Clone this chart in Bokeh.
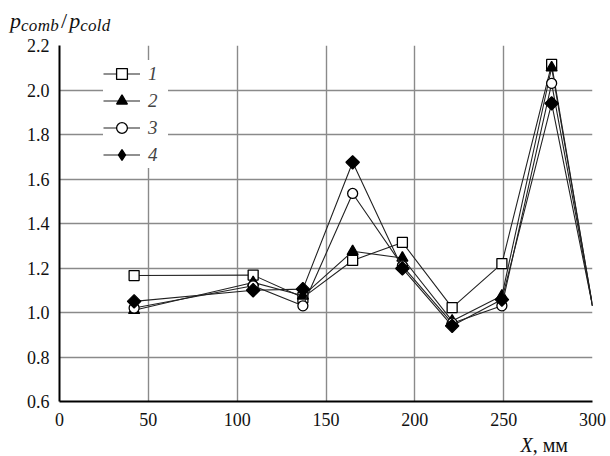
import math
from bokeh.plotting import figure
from bokeh.models import (Range1d, FixedTicker, PrintfTickFormatter, Legend, LegendItem, Div)
from bokeh.layouts import column
from bokeh.embed import file_html
from bokeh.resources import INLINE

# ---- data ----
x_pos = [42, 109, 137, 165, 193, 221, 249, 277, 300]
s1 = [1.166, 1.168, 1.067, 1.234, 1.315, 1.022, 1.22, 2.115, 1.03]
s2 = [1.01, 1.135, 1.075, 1.275, 1.245, 0.962, 1.075, 2.10, 1.03]
s3 = [1.02, 1.12, 1.03, 1.535, 1.21, 0.952, 1.03, 2.03, 1.03]
s4 = [1.05, 1.10, 1.105, 1.675, 1.198, 0.94, 1.058, 1.94, 1.03]
series_names = ["1", "2", "3", "4"]
x_ticks = [0, 50, 100, 150, 200, 250, 300]
y_ticks = [0.6, 0.8, 1.0, 1.2, 1.4, 1.6, 1.8, 2.0, 2.2]

FONT = "serif"
CSSFONT = "'Liberation Serif', 'DejaVu Serif', serif"

TOP_H = 32
BOT_H = 22
FIG_H = 456 - TOP_H - BOT_H

p = figure(width=610, height=FIG_H, output_backend="svg", toolbar_location=None,
           x_range=Range1d(0, 300), y_range=Range1d(0.6, 2.2),
           min_border_left=59, min_border_right=18, min_border_top=45 - TOP_H,
           min_border_bottom=FIG_H - (401 - TOP_H))
p.outline_line_color = None
p.background_fill_color = "white"
p.border_fill_color = "white"
p.margin = 0

for ax in (p.xaxis[0], p.yaxis[0]):
    ax.axis_line_color = "black"
    ax.axis_line_width = 2
    ax.major_tick_line_color = None
    ax.minor_tick_line_color = None
    ax.major_tick_out = 0
    ax.major_tick_in = 0
    ax.minor_tick_out = 0
    ax.minor_tick_in = 0
    ax.major_label_text_font = FONT
    ax.major_label_text_font_size = "18px"
    ax.major_label_text_color = "#111"
p.xaxis.ticker = FixedTicker(ticks=x_ticks)
p.yaxis.ticker = FixedTicker(ticks=y_ticks)
p.yaxis.formatter = PrintfTickFormatter(format="%.1f")
p.xaxis.major_label_standoff = 11
p.yaxis.major_label_standoff = 10

for g in (p.xgrid[0], p.ygrid[0]):
    g.grid_line_color = "#8a8a8a"
    g.grid_line_width = 1.4

LC = "#222222"
xs_m = x_pos[:-1]
items = []
specs = [
    (s1, "square", "white", 10, 0.0),
    (s2, "triangle", "black", 11, 0.0),
    (s3, "circle", "white", 10, 0.0),
    (s4, "square", "black", 9.5, math.pi / 4),
]
legend_markers = ["square", "triangle", "circle", "diamond"]
for (vals, marker, fill, size, ang), name, lm in zip(specs, series_names, legend_markers):
    ln = p.line(x_pos, vals, line_color=LC, line_width=1.1)
    sc = p.scatter(xs_m, vals[:-1], marker=marker, size=size, angle=ang, fill_color=fill,
                   line_color="black", line_width=1.3)
    if lm == marker:
        items.append(LegendItem(label=name, renderers=[ln, sc]))
    else:
        # legend-only proxy (same data, hidden in the plot) so the key shows a diamond
        proxy = p.scatter(xs_m, vals[:-1], marker=lm, size=size, fill_color=fill,
                          line_color="black", line_width=1.3, visible=False)
        items.append(LegendItem(label=name, renderers=[ln, proxy]))

legend = Legend(items=items, location=(44, 233))
legend.background_fill_color = "white"
legend.background_fill_alpha = 1.0
legend.border_line_color = None
legend.inactive_fill_alpha = 0.0
legend.label_text_font = FONT
legend.label_text_font_style = "italic"
legend.label_text_font_size = "19px"
legend.glyph_width = 37
legend.glyph_height = 27
legend.label_height = 27
legend.spacing = 0
legend.padding = 5
legend.margin = 0
legend.label_standoff = 8
p.add_layout(legend, "center")

sub = "font-size:17px; position:relative; top:3px; letter-spacing:0.3px;"
top_html = (
    f'<div style="padding:10px 0 0 10px; margin:0; font-family:{CSSFONT}; font-size:22px; '
    f'line-height:22px; font-style:italic; white-space:nowrap; color:#111;">'
    f'p<span style="{sub}">comb</span>'
    f'<span style="font-style:normal; padding:0 2px;">/</span>'
    f'p<span style="{sub}">cold</span></div>'
)
top_div = Div(text=top_html, width=610, height=TOP_H, margin=0)

bot_html = (
    f'<div style="display:block; box-sizing:border-box; width:610px; text-align:right; '
    f'margin:0; padding:0 42px 0 0; font-family:{CSSFONT}; '
    f'font-size:20px; line-height:22px; white-space:nowrap; color:#111;">'
    f'<i>X</i>, мм</div>'
)
bot_div = Div(text=bot_html, width=610, height=BOT_H, margin=0)

layout = column(top_div, p, bot_div, spacing=0, margin=0)

open("out.html", "w").write(file_html(layout, INLINE))
